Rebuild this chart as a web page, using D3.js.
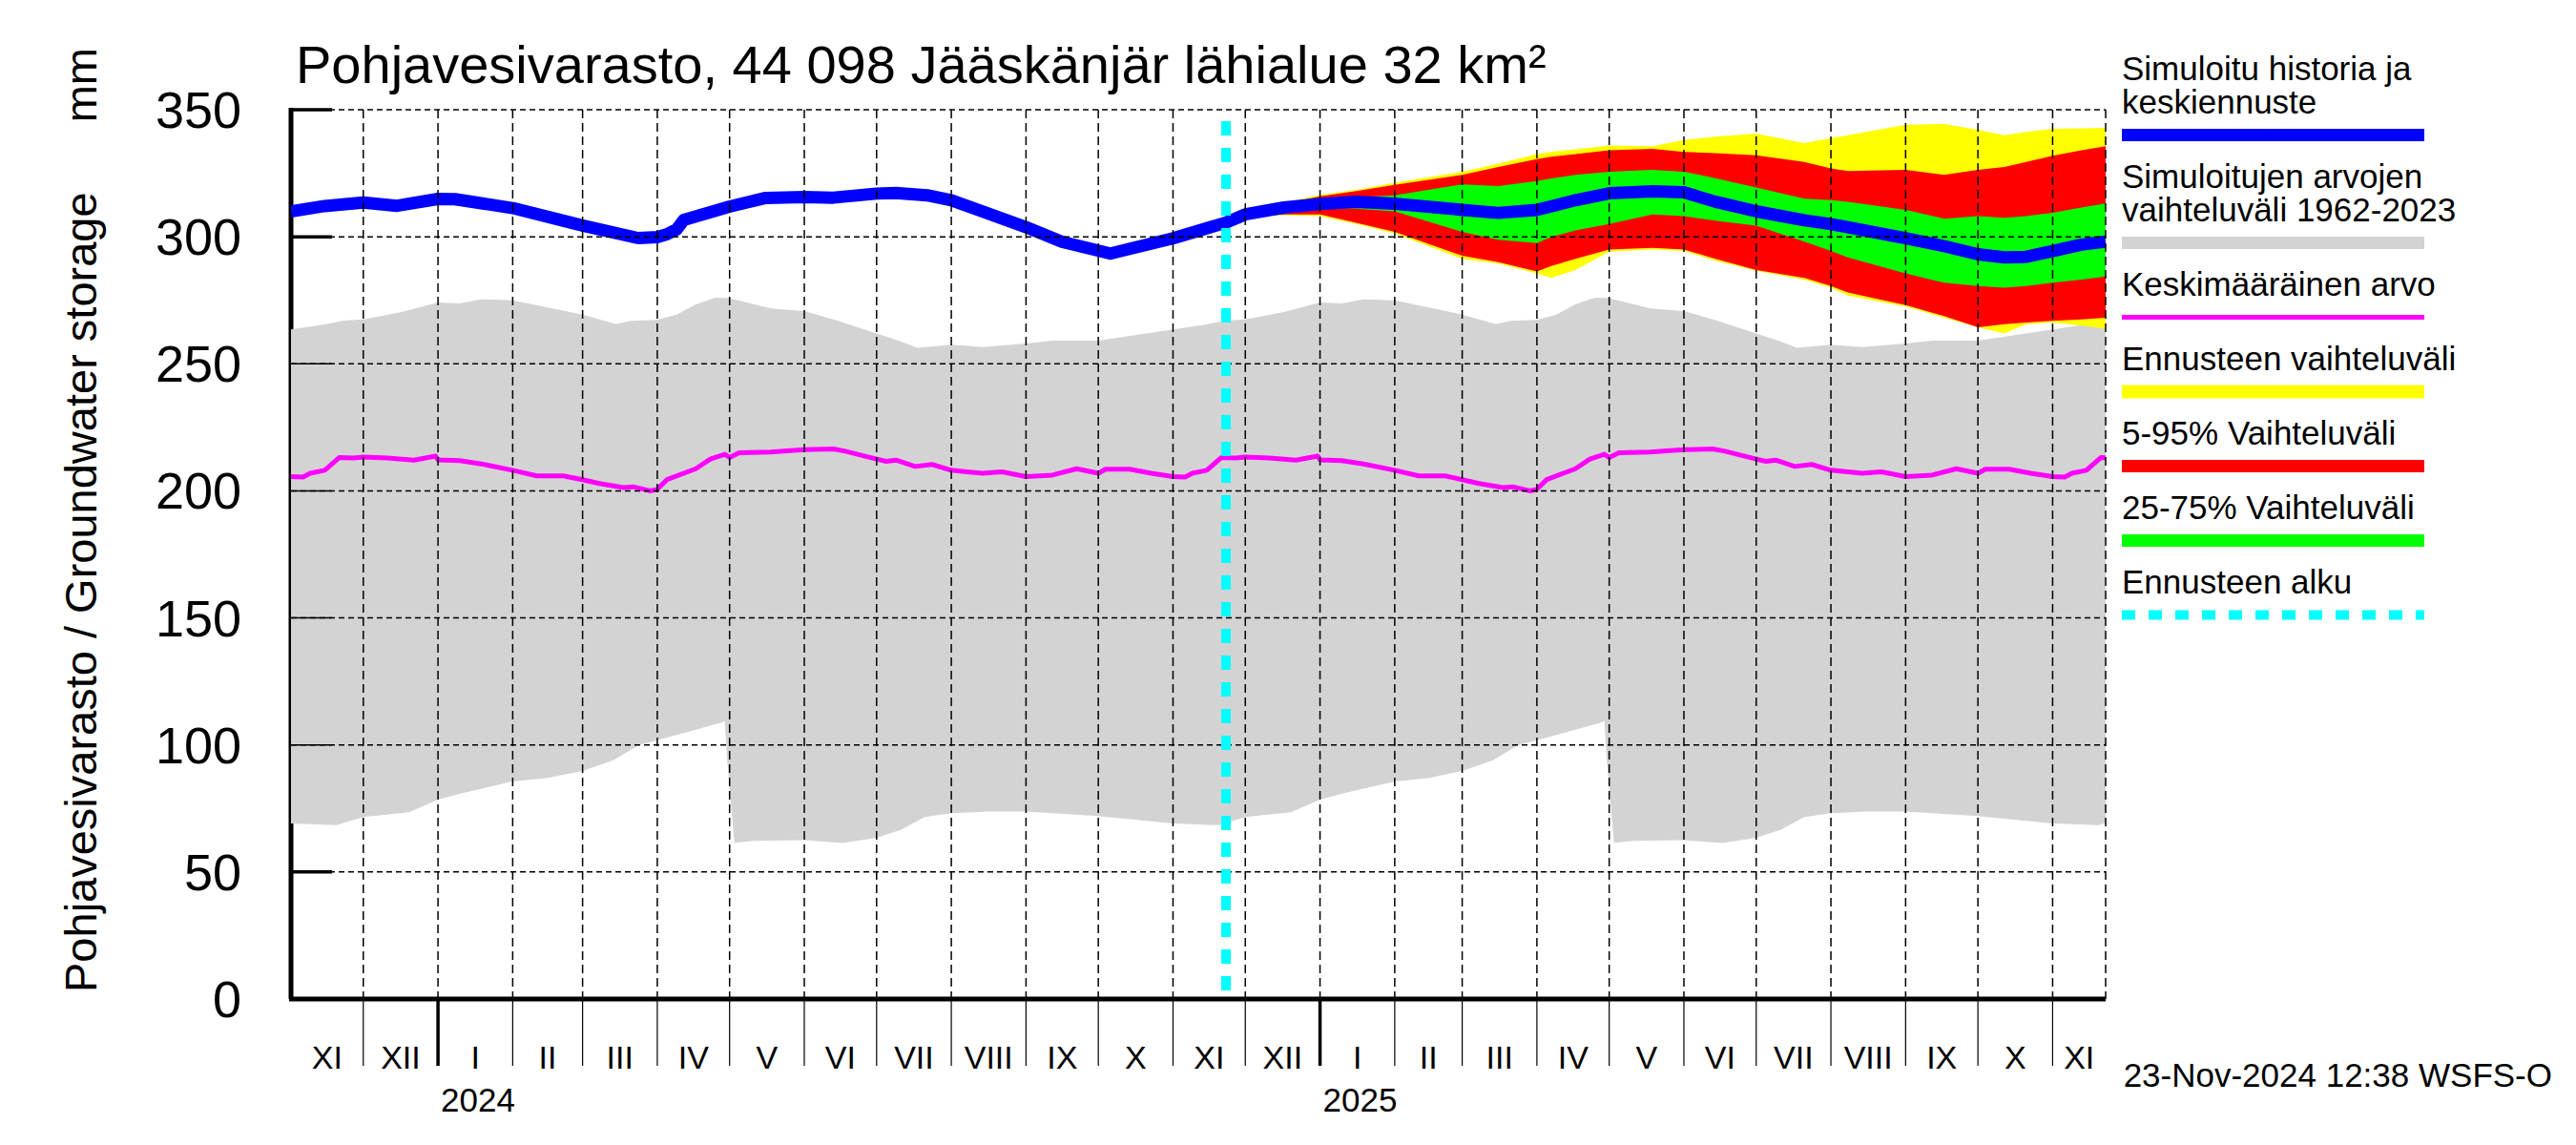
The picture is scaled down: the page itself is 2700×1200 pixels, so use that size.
<!DOCTYPE html>
<html>
<head>
<meta charset="utf-8">
<script src="https://d3js.org/d3.v7.min.js"></script>
<style>
body { margin: 0; background: #fff; }
text { font-family: "Liberation Sans", Arial, Helvetica, sans-serif; fill: #000; }
</style>
</head>
<body>
<svg id="chart" width="2700" height="1200"></svg>
<script>
// simulated history (blue, until forecast start)
const histDates = ["2023-11-01","2023-11-15","2023-12-01","2023-12-15","2024-01-01","2024-01-08","2024-02-01","2024-03-01","2024-03-24","2024-04-01","2024-04-05","2024-04-09","2024-04-12","2024-05-01","2024-05-16","2024-06-01","2024-06-13","2024-07-01","2024-07-09","2024-07-22","2024-08-01","2024-09-01","2024-09-16","2024-10-06","2024-11-01","2024-11-23"];
const histValues = [310,312.1,313.5,312.2,314.9,314.8,311.3,304.4,299.5,299.9,301,302.9,306.6,311.9,315.3,315.6,315.4,317,317.2,316.3,314.4,303.8,298,293.4,299.4,305.6];

// forecast (from 23-Nov-2024)
const fcDates = ["2024-11-23","2024-12-01","2024-12-17","2025-01-01","2025-01-16","2025-02-01","2025-03-01","2025-03-16","2025-04-01","2025-04-07","2025-04-17","2025-05-01","2025-05-19","2025-06-01","2025-06-14","2025-07-01","2025-07-21","2025-08-01","2025-08-08","2025-09-01","2025-09-17","2025-10-01","2025-10-12","2025-10-21","2025-11-01","2025-11-13","2025-11-23"];
const fcMedian = [305.6,308.8,311.5,312.9,313.8,313,310.6,309.4,310.6,312,314.4,317.1,317.9,317.5,313.8,310,306.5,305,303.8,299.4,296.3,293.1,291.9,292.1,294.4,296.9,298.1];
const fcMax = [305.6,310,313.5,316.5,318.5,321.3,325.6,328.8,332.5,333.5,334.4,335.9,335.6,338.1,339.4,340.6,336.9,338.8,340,344.1,344.4,342.1,340,341.3,342.5,342.7,342.9];
const fcP95 = [305.6,309.8,313,315.9,318,320.4,324.4,327.5,330.6,331.5,332.5,334,334.6,333.4,332.9,332.1,329.4,326.9,325.9,326.3,324.4,326.3,327.5,329.4,331.9,334,335.6];
const fcP75 = [305.6,309.3,312.3,314.5,315.5,316.3,320.6,320,321.9,323,324.4,325.6,326.3,325.6,323.1,319.4,315,314.4,313.8,310.6,307.1,308.1,307.5,308.1,309.4,311.5,313.1];
const fcP25 = [305.6,308.3,310.5,311.5,311,310,301.9,298.8,297.5,300,302.5,305,308.8,308.1,306.3,304.4,298.1,294.4,291.9,285.6,281.9,280.6,280,280.6,281.9,283.2,284.4];
const fcP5 = [305.6,307.8,308.8,308.8,305.5,301.9,292.5,290,286.3,288.5,291.3,295,295.6,295,291.3,286.9,283.8,280.6,278.1,273.1,268.8,264.4,265.6,266.3,266.9,267.5,268.1];
const fcMin = [305.6,307.5,308.5,308.1,305,301.3,291.3,289.4,285.6,283.8,286.9,294.1,295,294.4,290.6,286.6,283.1,280,276.9,272.5,268.1,264.4,261.9,265.6,266.3,265,263.8];

// 1962-2023 statistics by calendar day [month, day, value], Nov 1 -> Nov 1
const climMax = [[11,1,263.5],[11,15,265.5],[11,23,267],[12,1,267.5],[12,17,270.4],[1,1,274.1],[1,10,273.8],[1,19,275.4],[2,1,275],[3,1,269.4],[3,15,265.6],[3,21,266.9],[4,1,267.3],[4,9,269.4],[4,17,273.4],[4,25,276],[5,1,275.8],[5,18,271.8],[6,1,270.8],[6,15,266.9],[7,1,261.9],[7,9,259.5],[7,18,256.3],[8,1,257.5],[8,14,256.6],[9,1,258],[9,12,259.1],[10,1,259.1],[11,1,263.3]];
const climMin = [[11,1,69.1],[11,20,68.4],[12,1,71.6],[12,20,73.5],[1,1,78.5],[1,11,81],[2,1,85.6],[2,15,86.9],[3,1,89.8],[3,14,94.1],[3,24,99.8],[4,1,101.9],[4,17,106],[4,28,108.9],[4,29,109.5],[4,30,94],[5,3,61.5],[5,11,62.2],[6,1,62.5],[6,17,61.4],[7,1,63.5],[7,11,66.6],[7,21,71.6],[8,1,73.1],[8,16,73.8],[9,1,73.8],[10,1,72],[11,1,69.3]];
const climMean = [[11,1,205.6],[11,6,205.4],[11,9,206.9],[11,15,208.1],[11,21,213.1],[11,27,212.9],[12,1,213.3],[12,11,212.9],[12,22,212.1],[12,31,213.7],[1,1,212.2],[1,10,211.9],[1,19,210.6],[2,1,208.1],[2,11,205.9],[2,22,205.9],[3,1,204.4],[3,8,202.9],[3,18,201.3],[3,22,201.6],[3,29,200],[4,1,200.6],[4,5,204.4],[4,17,208.7],[4,23,212.5],[4,29,214.4],[5,1,213.1],[5,5,215],[5,18,215.3],[6,1,216.2],[6,13,216.5],[6,18,215.6],[7,1,212.5],[7,5,211.6],[7,9,212.1],[7,12,211.2],[7,17,209.6],[7,24,210.4],[8,1,208.1],[8,14,206.9],[8,22,207.5],[9,1,205.6],[9,12,206.2],[9,22,208.7],[10,1,206.9],[10,4,208.5],[10,14,208.5],[10,23,206.9],[11,1,205.8]];

const yTicks = [0,50,100,150,200,250,300,350];
const monthNames = ["I","II","III","IV","V","VI","VII","VIII","IX","X","XI","XII"];
const forecastStart = "2024-11-23";
const startDate = "2023-11-01";
const endDate = "2025-11-23";

const titleText = "Pohjavesivarasto, 44 098 Jääskänjär lähialue 32 km²";
const yLabel = "Pohjavesivarasto / Groundwater storage";
const stamp = "23-Nov-2024 12:38 WSFS-O";

const parse = d3.timeParse("%Y-%m-%d");

// spread the calendar statistics over the seasons shown
function seasonSeries(list) {
    var out = [];
    [2023, 2024, 2025].forEach(s => {
        list.forEach((c, i) => {
            const last = i === list.length - 1;
            if (last && s !== 2025) return;
            const yr = (c[0] >= 11 && !last) ? s : s + 1;
            out.push({ date: new Date(yr, c[0] - 1, c[1]), value: c[2] });
        });
    });
    return out;
}

const svg = d3.select("#chart");
const pLeft = 305, pRight = 2207, pTop = 115, pBottom = 1047;

const x = d3.scaleTime().domain([parse(startDate), parse(endDate)]).range([pLeft, pRight]);
const y = d3.scaleLinear().domain([0, 350]).range([pBottom, pTop]);

svg.append("clipPath").attr("id", "plotclip")
    .append("rect").attr("x", pLeft).attr("y", pTop - 10).attr("width", pRight - pLeft).attr("height", pBottom - pTop + 10);

// left axis and inner ticks (under the grey band)
svg.append("line").attr("x1", pLeft).attr("x2", pLeft).attr("y1", pTop - 2).attr("y2", pBottom)
    .attr("stroke", "#000").attr("stroke-width", 5);
svg.selectAll(".ytick").data(yTicks).enter().append("line")
    .attr("x1", pLeft).attr("x2", pLeft + 43).attr("y1", d => y(d)).attr("y2", d => y(d))
    .attr("stroke", "#000").attr("stroke-width", 3.5);

const plot = svg.append("g").attr("clip-path", "url(#plotclip)");

// grey band: upper edge forward, lower edge back
const gMax = seasonSeries(climMax), gMin = seasonSeries(climMin);
const edge = d3.line().x(d => x(d.date)).y(d => y(d.value));
plot.append("path")
    .attr("d", edge(gMax) + "L" + edge(gMin.slice().reverse()).slice(1) + "Z")
    .attr("fill", "#d3d3d3");

// forecast bands
const fc = fcDates.map((d, i) => ({
    date: parse(d), min: fcMin[i], p5: fcP5[i], p25: fcP25[i], med: fcMedian[i], p75: fcP75[i], p95: fcP95[i], max: fcMax[i]
}));
const band = (lo, hi) => d3.area().x(d => x(d.date)).y0(d => y(d[lo])).y1(d => y(d[hi]));
plot.append("path").attr("d", band("min", "max")(fc)).attr("fill", "#ffff00");
plot.append("path").attr("d", band("p5", "p95")(fc)).attr("fill", "#ff0000");
plot.append("path").attr("d", band("p25", "p75")(fc)).attr("fill", "#00ff00");

// thin tick remains over the grey
svg.selectAll(".ytick2").data(yTicks).enter().append("line")
    .attr("x1", pLeft).attr("x2", pLeft + 43).attr("y1", d => y(d)).attr("y2", d => y(d))
    .attr("stroke", "#000").attr("stroke-width", 1.5);

// grid
const months = d3.timeMonth.range(d3.timeMonth.offset(x.domain()[0], 1), x.domain()[1]);
svg.selectAll(".hgrid").data(yTicks.filter(d => d > 0)).enter().append("line")
    .attr("x1", pLeft).attr("x2", pRight).attr("y1", d => y(d)).attr("y2", d => y(d))
    .attr("stroke", "#000").attr("stroke-width", 1.5).attr("stroke-dasharray", "6,4");
svg.selectAll(".vgrid").data(months.concat([x.domain()[1]])).enter().append("line")
    .attr("x1", d => x(d)).attr("x2", d => x(d)).attr("y1", pTop).attr("y2", pBottom)
    .attr("stroke", "#000").attr("stroke-width", 1.5).attr("stroke-dasharray", "9,5");

// mean line
plot.append("path")
    .attr("d", edge(seasonSeries(climMean)))
    .attr("fill", "none").attr("stroke", "#ff00ff").attr("stroke-width", 5).attr("stroke-linejoin", "round");

// simulated history + median forecast
const blue = histDates.map((d, i) => ({ date: parse(d), value: histValues[i] }))
    .concat(fc.slice(1).map(d => ({ date: d.date, value: d.med })));
plot.append("path")
    .attr("d", edge(blue))
    .attr("fill", "none").attr("stroke", "#0000ff").attr("stroke-width", 13).attr("stroke-linejoin", "round");

// forecast start
svg.append("line")
    .attr("x1", x(parse(forecastStart))).attr("x2", x(parse(forecastStart)))
    .attr("y1", pTop + 12).attr("y2", pBottom)
    .attr("stroke", "#00ffff").attr("stroke-width", 10).attr("stroke-dasharray", "15,13");

// bottom axis
svg.append("line").attr("x1", pLeft - 2).attr("x2", pRight).attr("y1", pBottom).attr("y2", pBottom)
    .attr("stroke", "#000").attr("stroke-width", 5);
svg.selectAll(".mtick").data(months).enter().append("line")
    .attr("x1", d => x(d)).attr("x2", d => x(d)).attr("y1", pBottom).attr("y2", 1117)
    .attr("stroke", "#000").attr("stroke-width", d => d.getMonth() === 0 ? 3.5 : 1.2);

// month labels
const allMonths = d3.timeMonth.range(x.domain()[0], x.domain()[1]);
svg.selectAll(".mlabel").data(allMonths).enter().append("text")
    .attr("x", d => {
        const a = Math.max(x(d), pLeft), b = Math.min(x(d3.timeMonth.offset(d, 1)), pRight);
        return (a + b) / 2;
    })
    .attr("y", 1120).attr("text-anchor", "middle").attr("font-size", 34)
    .text(d => monthNames[d.getMonth()]);
svg.selectAll(".yearlabel").data(months.filter(d => d.getMonth() === 0)).enter().append("text")
    .attr("x", d => x(d) + 3).attr("y", 1165).attr("font-size", 35)
    .text(d => d.getFullYear());

// y tick labels
svg.selectAll(".ytl").data(yTicks).enter().append("text")
    .attr("x", 253).attr("y", d => y(d) + 19).attr("text-anchor", "end").attr("font-size", 54)
    .text(d => d);

// titles
svg.append("text").attr("x", 310).attr("y", 87).attr("font-size", 56).text(titleText);
svg.append("text").attr("transform", "translate(101,1040) rotate(-90)").attr("font-size", 47).text(yLabel);
svg.append("text").attr("transform", "translate(101,50) rotate(-90)").attr("text-anchor", "end").attr("font-size", 47).text("mm");
svg.append("text").attr("x", 2675).attr("y", 1139).attr("text-anchor", "end").attr("font-size", 35).text(stamp);

// legend
const legend = [
    { lines: ["Simuloitu historia ja", "keskiennuste"], color: "#0000ff", w: 13 },
    { lines: ["Simuloitujen arvojen", "vaihteluväli 1962-2023"], color: "#d3d3d3", w: 13 },
    { lines: ["Keskimääräinen arvo"], color: "#ff00ff", w: 5 },
    { lines: ["Ennusteen vaihteluväli"], color: "#ffff00", w: 14 },
    { lines: ["5-95% Vaihteluväli"], color: "#ff0000", w: 13 },
    { lines: ["25-75% Vaihteluväli"], color: "#00ff00", w: 13 },
    { lines: ["Ennusteen alku"], color: "#00ffff", w: 10, dash: "14,14" }
];
var ly = 84;
legend.forEach(e => {
    e.lines.forEach((t, i) => {
        svg.append("text").attr("x", 2224).attr("y", ly + i * 35).attr("font-size", 35).text(t);
    });
    const barY = ly + (e.lines.length - 1) * 35 + 22.5;
    svg.append("line").attr("x1", 2224).attr("x2", 2541).attr("y1", barY).attr("y2", barY)
        .attr("stroke", e.color).attr("stroke-width", e.w).attr("stroke-dasharray", e.dash || null);
    ly = barY + 55.5;
});
</script>
</body>
</html>
